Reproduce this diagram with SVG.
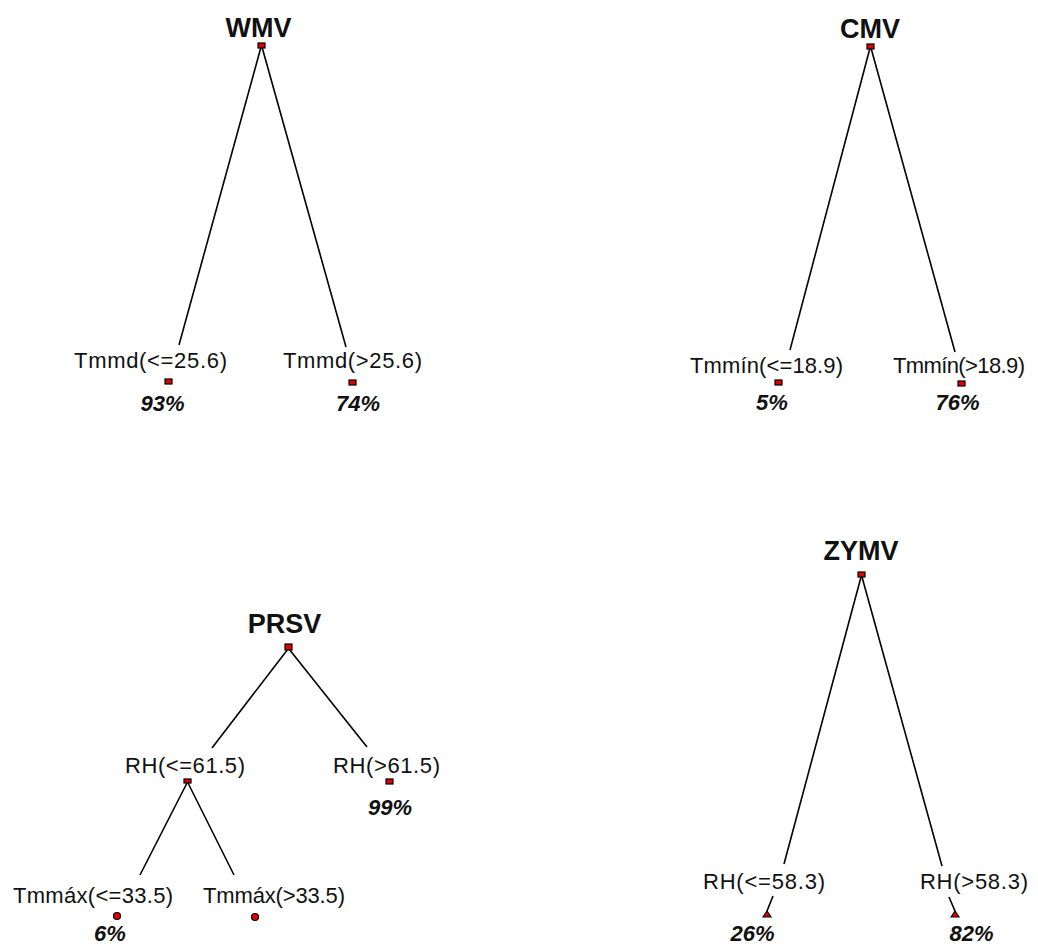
<svg xmlns="http://www.w3.org/2000/svg" width="1038" height="947" viewBox="0 0 1038 947">
<style>
.t{font-family:"Liberation Sans",Arial,sans-serif;font-size:27px;font-weight:bold;text-anchor:middle;fill:#111}
.l{font-family:"Liberation Sans",Arial,sans-serif;font-size:22px;text-anchor:middle;fill:#111}
.p{font-family:"Liberation Sans",Arial,sans-serif;font-size:22px;font-weight:bold;font-style:italic;text-anchor:middle;fill:#111}
.m{fill:#e00000;stroke:#000;stroke-width:1.2}
.e{stroke:#000;stroke-width:1.6;fill:none}
</style>
<rect width="1038" height="947" fill="#fff"/>
<g id="connectors">
<line class="e" x1="261" y1="47" x2="179" y2="345"/>
<line class="e" x1="262" y1="47" x2="346" y2="347"/>
<line class="e" x1="870" y1="48" x2="790" y2="350"/>
<line class="e" x1="871" y1="48" x2="955" y2="352"/>
<line class="e" x1="288" y1="649" x2="212" y2="748"/>
<line class="e" x1="289" y1="649" x2="367" y2="747"/>
<line class="e" x1="187" y1="783" x2="140" y2="875"/>
<line class="e" x1="188" y1="783" x2="234" y2="875"/>
<line class="e" x1="861" y1="577" x2="784" y2="864"/>
<line class="e" x1="862" y1="577" x2="942" y2="866"/>
<line class="e" x1="773" y1="896" x2="767" y2="911"/>
<line class="e" x1="949" y1="897" x2="955" y2="911"/>
</g>
<g id="WMV">
<text class="t" x="258.5" y="37">WMV</text>
<rect class="m" x="258" y="43" width="7" height="5"/>
</g>
<g id="WMV-left">
<text class="l" x="150.5" y="368" textLength="153" lengthAdjust="spacing">Tmmd(&lt;=25.6)</text>
<rect class="m" x="165" y="379" width="7" height="5"/>
<text class="p" x="162.5" y="411">93%</text>
</g>
<g id="WMV-right">
<text class="l" x="352.5" y="368" textLength="139" lengthAdjust="spacing">Tmmd(&gt;25.6)</text>
<rect class="m" x="349" y="380" width="7" height="5"/>
<text class="p" x="358" y="411">74%</text>
</g>
<g id="CMV">
<text class="t" x="870" y="38">CMV</text>
<rect class="m" x="867" y="44" width="7" height="5"/>
</g>
<g id="CMV-left">
<text class="l" x="766.5" y="373" textLength="153" lengthAdjust="spacing">Tmmín(&lt;=18.9)</text>
<rect class="m" x="775" y="380" width="7" height="5"/>
<text class="p" x="772" y="410">5%</text>
</g>
<g id="CMV-right">
<text class="l" x="959" y="373" textLength="132" lengthAdjust="spacing">Tmmín(&gt;18.9)</text>
<rect class="m" x="958" y="381" width="7" height="5"/>
<text class="p" x="957.5" y="410">76%</text>
</g>
<g id="PRSV">
<text class="t" x="284.5" y="633">PRSV</text>
<rect class="m" x="285" y="644" width="7" height="6"/>
</g>
<g id="PRSV-left">
<text class="l" x="185" y="773" textLength="120" lengthAdjust="spacing">RH(&lt;=61.5)</text>
<rect class="m" x="184" y="779" width="7" height="4"/>
</g>
<g id="PRSV-right">
<text class="l" x="386.5" y="773" textLength="107" lengthAdjust="spacing">RH(&gt;61.5)</text>
<rect class="m" x="386" y="779" width="7" height="5"/>
<text class="p" x="390" y="815">99%</text>
</g>
<g id="PRSV-left-left">
<text class="l" x="93" y="903" textLength="160" lengthAdjust="spacing">Tmmáx(&lt;=33.5)</text>
<circle class="m" cx="117" cy="916" r="3.5"/>
<text class="p" x="110" y="941">6%</text>
</g>
<g id="PRSV-left-right">
<text class="l" x="274" y="903" textLength="142" lengthAdjust="spacing">Tmmáx(&gt;33.5)</text>
<circle class="m" cx="255" cy="917" r="3.5"/>
</g>
<g id="ZYMV">
<text class="t" x="861" y="560">ZYMV</text>
<rect class="m" x="858" y="572" width="7" height="5"/>
</g>
<g id="ZYMV-left">
<text class="l" x="764" y="889" textLength="122" lengthAdjust="spacing">RH(&lt;=58.3)</text>
<path class="m" d="M763 917 L767 911 L771 917 Z"/>
<text class="p" x="752.5" y="941">26%</text>
</g>
<g id="ZYMV-right">
<text class="l" x="974" y="889" textLength="108" lengthAdjust="spacing">RH(&gt;58.3)</text>
<path class="m" d="M951 917 L955 911 L959 917 Z"/>
<text class="p" x="971.5" y="941">82%</text>
</g>
</svg>
